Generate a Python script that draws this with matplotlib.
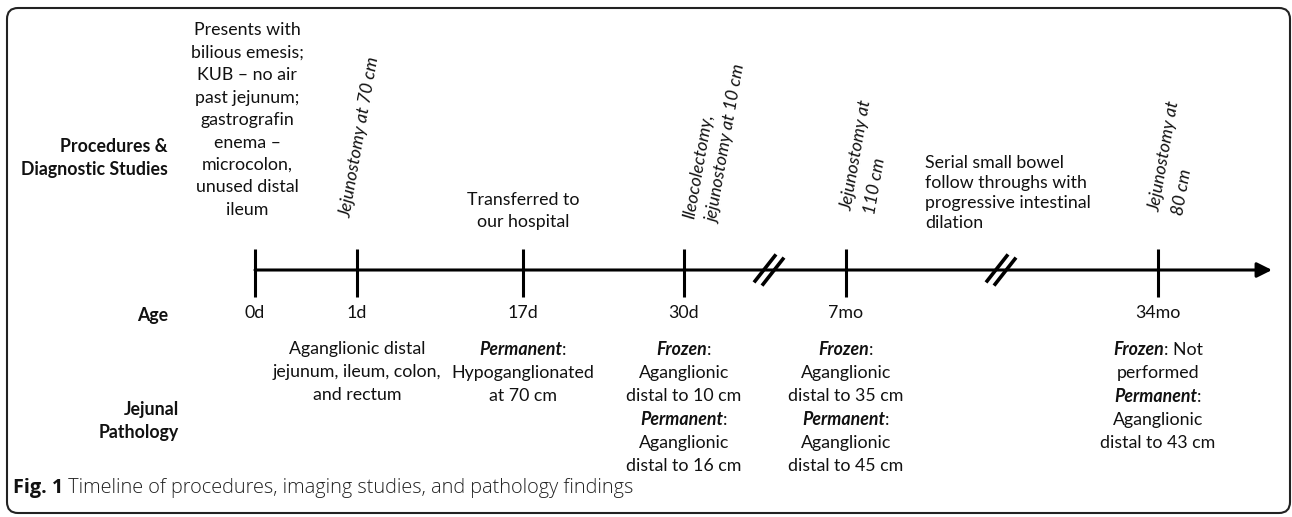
import matplotlib
matplotlib.use("Agg")
import matplotlib.pyplot as plt
from matplotlib.patches import FancyBboxPatch
from matplotlib.offsetbox import TextArea, HPacker, VPacker, AnnotationBbox

# ---------------- data ----------------
ages = ["0d", "1d", "17d", "30d", "7mo", "34mo"]

procedures = [
    "Presents with\nbilious emesis;\nKUB \u2013 no air\npast jejunum;\ngastrografin\nenema \u2013\nmicrocolon,\nunused distal\nileum",
    "Jejunostomy at 70 cm",
    "Transferred to\nour hospital",
    "Ileocolectomy,\njejunostomy at 10 cm",
    "Jejunostomy at\n110 cm",
    "Jejunostomy at\n80 cm",
]
procedure_rotated = [False, True, False, True, True, True]

interval_note = "Serial small bowel\nfollow throughs with\nprogressive intestinal\ndilation"

# pathology: each entry is list of lines, each line is list of (text, style)
B = "bi"   # bold italic
R = "r"    # regular
pathology = [
    None,
    [[("Aganglionic distal", R)], [("jejunum, ileum, colon,", R)], [("and rectum", R)]],
    [[("Permanent", B), (":", R)], [("Hypoganglionated", R)], [("at 70 cm", R)]],
    [[("Frozen", B), (":", R)], [("Aganglionic", R)], [("distal to 10 cm", R)],
     [("Permanent", B), (":", R)], [("Aganglionic", R)], [("distal to 16 cm", R)]],
    [[("Frozen", B), (":", R)], [("Aganglionic", R)], [("distal to 35 cm", R)],
     [("Permanent", B), (":", R)], [("Aganglionic", R)], [("distal to 45 cm", R)]],
    [[("Frozen", B), (": Not", R)], [("performed", R)],
     [("Permanent", B), (":", R)], [("Aganglionic", R)], [("distal to 43 cm", R)]],
]

row_labels = ["Procedures &\nDiagnostic Studies", "Age", "Jejunal\nPathology"]
caption_bold = "Fig. 1"
caption_text = " Timeline of procedures, imaging studies, and pathology findings"

# ---------------- layout ----------------
W, H = 1292, 517
tick_x = [255, 357, 523, 684, 846, 1158]
line_y = 270
line_x0, line_x1 = 255, 1272
break_x = [769, 1001]
proc_y = [120, 137, 211, 142, 157, 158]
proc_dx = [-8, 3, 0, 31, 22, 18]
proc_ls = [1.5, 1.4, 1.45, 1.65, 1.65, 1.65]
note_xy = (925, 193)
path_top = 341
age_y = 313

FONT = "Lato"
FS = 12.8
ink = "#111111"

fig = plt.figure(figsize=(W / 100, H / 100), dpi=100)
ax = fig.add_axes([0, 0, 1, 1])
ax.set_xlim(0, W)
ax.set_ylim(H, 0)
ax.axis("off")

# border
ax.add_patch(FancyBboxPatch((7, 8), 1283, 505, boxstyle="round,pad=0,rounding_size=11",
                            fill=False, ec="#222222", lw=1.5))

# main timeline with arrow
ax.annotate("", xy=(line_x1, line_y), xytext=(line_x0, line_y),
            arrowprops=dict(arrowstyle="-|>,head_length=0.9,head_width=0.45",
                            lw=2.2, color="black", shrinkA=0, shrinkB=0))

# ticks
for x in tick_x:
    ax.plot([x, x], [249, 297], color="black", lw=2.2, solid_capstyle="butt")

# break marks
for bx in break_x:
    for off in (-4, 4):
        ax.plot([bx + off - 11, bx + off + 11], [line_y + 14 + off * 0.4, line_y - 14 + off * 0.4],
                color="black", lw=2.6, solid_capstyle="butt")

# age labels
for x, a in zip(tick_x, ages):
    ax.text(x, age_y, a, ha="center", va="center", fontsize=FS, family=FONT, color=ink)

# procedures
for x, t, rot, y, dx, ls in zip(tick_x, procedures, procedure_rotated, proc_y, proc_dx, proc_ls):
    if rot:
        ax.text(x + dx, y, t, ha="center", va="center", rotation=80, fontsize=FS,
                family=FONT, style="italic", color=ink, multialignment="left",
                linespacing=ls)
    else:
        ax.text(x + dx, y, t, ha="center", va="center", fontsize=FS, family=FONT,
                color=ink, linespacing=ls)

ax.text(note_xy[0], note_xy[1], interval_note, ha="left", va="center", fontsize=FS,
        family=FONT, color=ink, linespacing=1.32)

# pathology
def seg_area(txt, style):
    props = dict(fontsize=FS, family=FONT, color=ink)
    if style == B:
        props.update(fontweight="bold", fontstyle="italic")
    return TextArea(txt, textprops=props)

for x, lines in zip(tick_x, pathology):
    if lines is None:
        continue
    rows = [HPacker(children=[seg_area(t, s) for t, s in ln], pad=0, sep=0, align="baseline")
            for ln in lines]
    box = VPacker(children=rows, pad=0, sep=5, align="center")
    ab = AnnotationBbox(box, (x, path_top), xycoords="data", box_alignment=(0.5, 1.0),
                        frameon=False, pad=0)
    ax.add_artist(ab)

# row labels
ax.text(168, 158, row_labels[0], ha="right", va="center", fontsize=FS, family=FONT,
        fontweight="bold", color=ink, linespacing=1.48)
ax.text(168, 316, row_labels[1], ha="right", va="center", fontsize=FS, family=FONT,
        fontweight="bold", color=ink)
ax.text(179, 421, row_labels[2], ha="right", va="center", fontsize=FS, family=FONT,
        fontweight="bold", color=ink, multialignment="right", linespacing=1.48)

# caption
cap = HPacker(children=[
    TextArea(caption_bold, textprops=dict(fontsize=14.3, family="Open Sans", fontweight="bold", color="#111111")),
    TextArea(caption_text, textprops=dict(fontsize=14.3, family="Open Sans", fontweight="light", color="#222222")),
], pad=0, sep=0, align="baseline")
ax.add_artist(AnnotationBbox(cap, (13, 488), xycoords="data", box_alignment=(0.0, 0.5),
                             frameon=False, pad=0))

fig.savefig("out.png", dpi=100)
